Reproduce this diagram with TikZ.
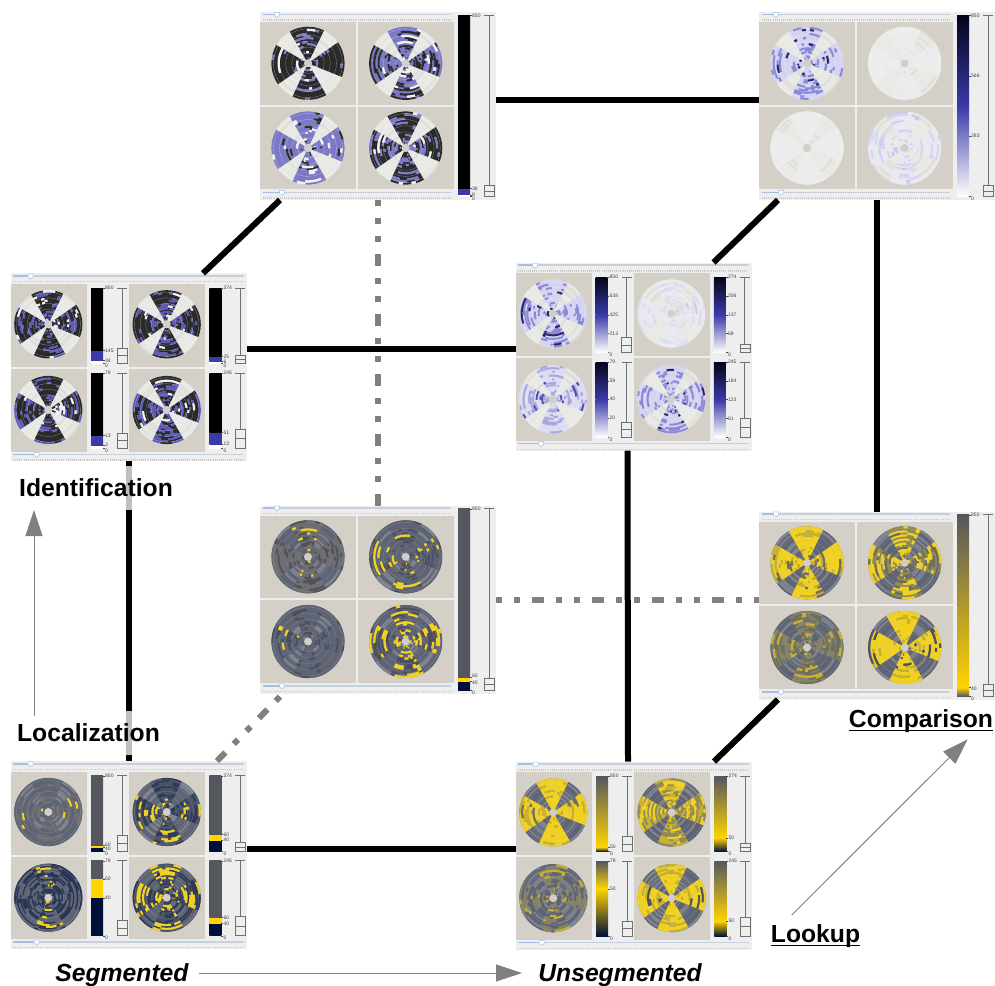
\documentclass[tikz,border=0pt]{standalone}
\usepackage{fontspec}
\setmainfont{Liberation Sans}
\usetikzlibrary{arrows.meta}
\definecolor{panelbg}{HTML}{EEEEEE}
\definecolor{tilecol}{HTML}{D4D0C8}
\definecolor{holecol}{HTML}{D2CFCA}
\definecolor{trackc}{HTML}{C4D0DE}
\definecolor{trackb}{HTML}{A4BEE4}
\definecolor{tickc}{HTML}{C8C8C8}
\definecolor{sldc}{HTML}{707070}
\definecolor{graycon}{HTML}{808080}
\definecolor{bk}{HTML}{2A2A2A}
\definecolor{pl}{HTML}{7C7AC6}
\definecolor{pu}{HTML}{5D5AB8}
\definecolor{wh}{HTML}{F0F0EE}
\definecolor{gl}{HTML}{E8E8E4}
\definecolor{gm}{HTML}{DEDEDA}
\definecolor{ba}{HTML}{D4D4F0}
\definecolor{bb}{HTML}{8A88D8}
\definecolor{bc}{HTML}{25256A}
\definecolor{bd}{HTML}{E8E8EE}
\definecolor{be}{HTML}{DCDCF0}
\definecolor{bf}{HTML}{C8C8E8}
\definecolor{bg}{HTML}{ECECEC}
\definecolor{bh}{HTML}{E6E6EE}
\definecolor{bi}{HTML}{A8A8E0}
\definecolor{bj}{HTML}{5050B8}
\definecolor{gy}{HTML}{5F6474}
\definecolor{gz}{HTML}{7C808C}
\definecolor{gr}{HTML}{6E6E70}
\definecolor{gs}{HTML}{50525A}
\definecolor{gt}{HTML}{4A4E5E}
\definecolor{yl}{HTML}{F2D220}
\definecolor{nv}{HTML}{2A3655}
\definecolor{nw}{HTML}{4A5268}
\definecolor{nx}{HTML}{2E3A58}
\definecolor{oa}{HTML}{C8B030}
\definecolor{ob}{HTML}{8E8A58}
\definecolor{oc}{HTML}{6E6E5E}
\definecolor{od}{HTML}{85826A}
\definecolor{barbk}{HTML}{000000}
\definecolor{barbl}{HTML}{3A3AAA}
\definecolor{bardk}{HTML}{04041A}
\definecolor{bargr}{HTML}{55575F}
\definecolor{baryl}{HTML}{FFD400}
\definecolor{barnv}{HTML}{001038}
\definecolor{barwh}{HTML}{FFFFFF}
\tikzset{
  panelbox/.style={fill=panelbg,inner sep=0pt,outer sep=0pt,minimum width=236pt,minimum height=188pt},
  conblack/.style={line width=6pt,black},
  congray/.style={line width=6pt,graycon,dash pattern=on 12pt off 12pt on 6pt off 12pt on 6pt off 12pt},
  flow/.style={line width=1pt,graycon,-{Triangle[length=26pt,width=17pt]}},
  heading/.style={font=\fontsize{24.7}{26}\selectfont\bfseries,inner sep=0pt},
  headit/.style={font=\fontsize{24.7}{26}\selectfont\bfseries\itshape,inner sep=0pt},
  barlabel/.style={font=\fontsize{5}{5}\selectfont,text=black!75,inner sep=0pt,anchor=west},
}
\newcount\labc
\newcount\pickn
\def\gapA{gl}\def\gapB{gm}\def\gapP{15}\def\ringC{white}
\newcommand\setgap[4]{\def\gapA{#1}\def\gapB{#2}\def\gapP{#3}\def\ringC{#4}}
\newcommand\onearc[3]{\pgfpathmoveto{\pgfpointpolar{#1}{#3 pt}}\pgfpatharc{#1}{#2}{#3 pt}}
\newcommand\addarc[4]{%
  \ifcase#1\or
    \xdef\lsta{\unexpanded\expandafter{\lsta}\noexpand\onearc{#2}{#3}{#4}}\or
    \xdef\lstb{\unexpanded\expandafter{\lstb}\noexpand\onearc{#2}{#3}{#4}}\or
    \xdef\lstc{\unexpanded\expandafter{\lstc}\noexpand\onearc{#2}{#3}{#4}}\or
    \xdef\lstg{\unexpanded\expandafter{\lstg}\noexpand\onearc{#2}{#3}{#4}}\fi}
\newcommand\strokelist[2]{%
  \pgfscope\pgfsetlinewidth{\lw pt}\pgfsetstrokecolor{#1}#2\pgfusepath{stroke}\endpgfscope}
\newcommand\ringdisc[8]{%
  \begin{scope}[shift={(#1,#2)}]
  \fill[\gapA] (0,0) circle[radius=#3 pt];
  \pgfmathsetmacro\dr{(#3-4)/16}
  \pgfmathsetmacro\lw{\dr+.22}
  \gdef\lsta{}\gdef\lstb{}\gdef\lstc{}\gdef\lstg{}
  \foreach \aa/\ab in {120/150,215/245,300/338,35/64}{
    \foreach \ri in {0,...,15}{
      \pgfmathsetmacro\rr{4+(\ri+.5)*\dr}
      \pgfmathrandominteger\rn{0}{99}
      \ifnum\rn<\gapP\relax\addarc{4}{\aa}{\ab}{\rr}\fi
    }
  }
  \foreach \aa/\ab in {64/120,150/215,245/300,338/395}{
    \pgfmathrandominteger\wb{-6}{6}
    \foreach \ri in {0,...,15}{
      \pgfmathsetmacro\rr{4+(\ri+.5)*\dr}
      \xdef\curc{0}\xdef\runst{\aa}
      \foreach \kk in {0,1,2,3,4,5,6,7}{
        \pgfmathsetmacro\ac{\aa+\kk*(\ab-\aa)/8}
        \pgfmathrandominteger\rs{0}{99}
        \ifnum\kk=0 \def\rs{99}\fi
        \edef\newc{\curc}
        \ifnum\rs<58 \else
          \pgfmathrandominteger\rn{0}{99}
          \pickn=\numexpr\rn+\wb\relax
          \ifnum\pickn<#7\relax\def\newc{1}\else
          \ifnum\pickn<#8\relax\def\newc{2}\else
          \def\newc{3}\fi\fi
        \fi
        \ifnum\newc=\curc\relax\else
          \ifnum\curc>0 \addarc{\curc}{\runst}{\ac}{\rr}\fi
          \xdef\runst{\ac}\xdef\curc{\newc}
        \fi
      }
      \addarc{\curc}{\runst}{\ab}{\rr}
    }
  }
  \strokelist{\gapB}{\lstg}
  \strokelist{#4}{\lsta}
  \strokelist{#5}{\lstb}
  \strokelist{#6}{\lstc}
  \foreach \ri in {3,6,...,15}{
    \pgfmathsetmacro\rr{4+\ri*\dr}
    \draw[line width=.35pt,\ringC,opacity=.4] (0,0) circle[radius=\rr pt];
  }
  \fill[holecol] (0,0) circle[radius=4pt];
  \end{scope}}
\newcommand\daa{\ringdisc{48}{51.3}{36.5}}
\newcommand\dab{\ringdisc{145.7}{51.3}{36.5}}
\newcommand\dac{\ringdisc{48}{136}{36.5}}
\newcommand\dad{\ringdisc{145.7}{136}{36.5}}
\newcommand\dba{\ringdisc{37.3}{51}{34}}
\newcommand\dbb{\ringdisc{155.7}{51}{34}}
\newcommand\dbc{\ringdisc{37.3}{136.7}{34}}
\newcommand\dbd{\ringdisc{155.7}{136.7}{34}}
\newcommand\hslider[4]{% x1 x2 y thumb
  \draw[line width=1.6pt,trackc] (#1,#3) -- (#2,#3);
  \draw[line width=1.6pt,trackb] (#1,#3) -- (#4,#3);
  \filldraw[fill=white,draw=trackb,line width=.5pt] (#4-2.5,#3-2) -- (#4+2.5,#3-2) -- (#4+2.5,#3+1) -- (#4,#3+3) -- (#4-2.5,#3+1) -- cycle;
  \draw[line width=1.2pt,tickc,dash pattern=on .7pt off 1.4pt] (#1,#3+5.7) -- (#2,#3+5.7);}
\newcommand\vslider[4]{% x top bottom thumb height
  \draw[line width=.7pt,sldc] (#1,#2) -- (#1,#3);
  \draw[line width=.7pt,sldc] (#1-5,#2) -- (#1+5,#2);
  \draw[line width=.7pt,sldc] (#1-5,#3) -- (#1+5,#3);
  \filldraw[fill=panelbg,draw=sldc,line width=.6pt] (#1-5,#3-#4) rectangle (#1+5,#3);
  \draw[line width=.5pt,sldc] (#1-5,#3-#4*.5) -- (#1+5,#3-#4*.5);}
\newcommand\vbar[4]{% x top bottom pieces
  \foreach \fa/\fb/\ca/\cb in {#4}{
    \pgfmathsetmacro\ya{#3-(#3-#2)*\fa}
    \pgfmathsetmacro\yb{#3-(#3-#2)*\fb}
    \shade[bottom color=\ca,top color=\cb] (#1,\ya) rectangle (#1+12,\yb);
  }}
\newcommand\barlabs[5]{% x top bottom max list
  \foreach \vv in {#5}{
    \pgfmathsetmacro\yl{#3-(#3-#2)*(\vv/#4)}
    \global\advance\labc by 1
    \draw[line width=.4pt,black!70] (#1,\yl) -- (#1+1.8,\yl);
    \ifnum\vv=0 \pgfmathsetmacro\yl{\yl+2.5}\fi
    \ifnum#4=850 \ifnum\vv=60 \pgfmathsetmacro\yl{\yl-1.3}\fi\ifnum\vv=40 \pgfmathsetmacro\yl{\yl+1.3}\fi\fi
    \node[barlabel] (lab\the\labc) at (#1+2,\yl) {\vv};
  }}
\newcommand\panelbase[3]{%
  \node[panelbox] (#1) at (118,94) {};}
% single-scale panel
\newcommand\panelA[7]{% name left top pieces max labels discs
  \begin{scope}[shift={(#2,#3)}]
  \panelbase{#1}{}{}
  \hslider{3}{191}{2.3}{17}
  \hslider{3}{191}{180.3}{22}
  \fill[tilecol] (0,10.3) rectangle (96,92.7);
  \fill[tilecol] (98,10.3) rectangle (194,92.7);
  \fill[tilecol] (0,94.7) rectangle (96,177.3);
  \fill[tilecol] (98,94.7) rectangle (194,177.3);
  #7
  \vbar{198}{3.3}{184.6}{#4}
  \barlabs{210}{3.3}{184.6}{#5}{#5,#6}
  \vslider{229}{3.3}{184.6}{11.7}
  \end{scope}}
% four-scale panel
\newcommand\qbar[7]{% x top bottom thumb max labels pieces
  \vbar{#1}{#2}{#3}{#7}
  \barlabs{#1+12}{#2}{#3}{#5}{#5,#6}
  \vslider{#1+31}{#2}{#3}{#4}}
\newcommand\qba{\qbar{80}{14.7}{90}{15.5}}
\newcommand\qbb{\qbar{198.3}{14.7}{90}{8.3}}
\newcommand\qbc{\qbar{80}{99.7}{174.7}{15}}
\newcommand\qbd{\qbar{198.3}{99.7}{174.7}{19}}
\newcommand\panelB[4]{% name left top content
  \begin{scope}[shift={(#2,#3)}]
  \panelbase{#1}{}{}
  \hslider{2}{233}{2.7}{19.7}
  \hslider{2}{233}{181}{25.7}
  \fill[tilecol] (0,10.7) rectangle (76,93.7);
  \fill[tilecol] (118,10.7) rectangle (194,93.7);
  \fill[tilecol] (0,95.7) rectangle (76,178.4);
  \fill[tilecol] (118,95.7) rectangle (194,178.4);
  #4
  \end{scope}}
\newcommand\ulword[1]{\sbox0{#1}\rlap{\rule[-4pt]{\wd0}{1.7pt}}\box0}
\begin{document}
\begin{tikzpicture}[x=1pt,y=-1pt]
\useasboundingbox (0,0) rectangle (995,985);
\pgfmathsetseed{4711}
%
\setgap{gl}{gm}{15}{white}
\panelA{PA}{260}{12}{0/.013/barwh/barwh,.013/.046/barbl/barbl,.046/1/barbk/barbk}{850}{38,8,0}{%
  \daa{bk}{pl}{wh}{85}{97}
  \dab{pl}{bk}{wh}{58}{90}
  \dac{pl}{bk}{wh}{78}{88}
  \dad{bk}{pl}{wh}{58}{92}}
\panelA{PB}{759}{12}{0/.5/barwh/barbl,.5/1/barbl/bardk}{850}{566,283,0}{%
  \daa{ba}{bb}{bc}{72}{97}
  \dab{bg}{bd}{be}{80}{98}
  \dac{bg}{bg}{bd}{88}{99}
  \dad{bd}{ba}{bf}{72}{96}}
\setgap{gy}{gz}{25}{gz!60!white}
\panelA{PC}{260}{505.5}{0/.047/barnv/barnv,.047/.07/baryl/baryl,.07/1/bargr/bargr}{850}{60,40,0}{%
  \daa{gr}{gs}{yl}{60}{95}
  \dab{gy}{gt}{yl}{60}{86}
  \dac{gy}{gt}{yl}{70}{98}
  \dad{gy}{gt}{yl}{42}{72}}
\panelA{PD}{759}{511.5}{0/.047/bargr/baryl,.047/1/baryl/bargr}{850}{40,0}{%
  \daa{yl}{oa}{oc}{80}{95}
  \dab{ob}{yl}{oc}{50}{85}
  \dac{od}{oc}{oa}{55}{90}
  \dad{yl}{oa}{gs}{84}{96}}
%
\setgap{gl}{gm}{15}{white}
\panelB{QA}{11}{273.3}{%
  \dba{bk}{pu}{wh}{62}{92}
  \dbb{bk}{pu}{wh}{62}{92}
  \dbc{bk}{pu}{wh}{62}{92}
  \dbd{bk}{pu}{wh}{52}{92}
  \qba{850}{145,34,0}{0/.04/barwh/barwh,.04/.17/barbl/barbl,.17/1/barbk/barbk}
  \qbb{274}{25,6,0}{0/.02/barwh/barwh,.02/.09/barbl/barbl,.09/1/barbk/barbk}
  \qbc{79}{13,3,0}{0/.04/barwh/barwh,.04/.165/barbl/barbl,.165/1/barbk/barbk}
  \qbd{245}{51,13,0}{0/.05/barwh/barwh,.05/.21/barbl/barbl,.21/1/barbk/barbk}}
\panelB{QB}{515.5}{262.5}{%
  \dba{ba}{bb}{bc}{68}{95}
  \dbb{bd}{be}{bf}{70}{96}
  \dbc{be}{bi}{bj}{68}{96}
  \dbd{ba}{bb}{bc}{62}{93}
  \qba{850}{638,425,213,0}{0/.5/barwh/barbl,.5/1/barbl/bardk}
  \qbb{274}{206,137,69,0}{0/.5/barwh/barbl,.5/1/barbl/bardk}
  \qbc{79}{59,40,20,0}{0/.5/barwh/barbl,.5/1/barbl/bardk}
  \qbd{245}{184,123,61,0}{0/.5/barwh/barbl,.5/1/barbl/bardk}}
\setgap{gy}{gz}{25}{gz!60!white}
\panelB{QC}{11}{761}{%
  \dba{gr}{gy}{yl}{50}{95}
  \dbb{nw}{nx}{yl}{50}{87}
  \setgap{nv}{gy}{45}{gz!60!white}
  \dbc{nv}{gy}{yl}{55}{96}
  \setgap{gy}{nx}{25}{gz!60!white}
  \dbd{nw}{nx}{yl}{38}{68}
  \qba{850}{60,40,0}{0/.047/barnv/barnv,.047/.07/baryl/baryl,.07/1/bargr/bargr}
  \qbb{274}{60,40,0}{0/.146/barnv/barnv,.146/.22/baryl/baryl,.22/1/bargr/bargr}
  \qbc{79}{60,40,0}{0/.506/barnv/barnv,.506/.76/baryl/baryl,.76/1/bargr/bargr}
  \qbd{245}{60,40,0}{0/.163/barnv/barnv,.163/.245/baryl/baryl,.245/1/bargr/bargr}}
\setgap{gy}{gz}{25}{gz!60!white}
\panelB{QD}{516}{761.5}{%
  \dba{yl}{oa}{oc}{78}{94}
  \dbb{oa}{ob}{yl}{40}{75}
  \dbc{od}{gy}{oa}{50}{85}
  \dbd{yl}{oa}{gs}{75}{93}
  \qba{850}{50,0}{0/.059/barnv/baryl,.059/1/baryl/bargr}
  \qbb{274}{50,0}{0/.182/barnv/baryl,.182/1/baryl/bargr}
  \qbc{79}{50,0}{0/.633/barnv/baryl,.633/1/baryl/bargr}
  \qbd{245}{50,0}{0/.204/barnv/baryl,.204/1/baryl/bargr}}
%
% dashed connectors
\draw[congray,dash phase=6pt] (PA.south) -- (PC.north);
\draw[congray,dash phase=24pt] (PC.east) -- ([yshift=6pt]PD.west);
\draw[congray] ([xshift=-30pt]QC.north east) -- ([xshift=23pt]PC.south west);
% solid connectors
\draw[conblack] ([yshift=6.5pt]PA.east) -- ([yshift=6.5pt]PB.west);
\draw[conblack] ([xshift=20pt]PA.south west) -- ([xshift=-44pt]QA.north east);
\draw[conblack] ([xshift=19pt]PB.south west) -- ([xshift=-38pt]QB.north east);
\draw[conblack] (PB.south) -- (PD.north);
\draw[conblack] ([yshift=18.3pt]QA.east) -- ([yshift=7.5pt]QB.west);
\draw[conblack] (QA.south) -- (QC.north);
\draw[conblack] ([xshift=-6pt]QB.south) -- ([xshift=-6pt]QD.north);
\draw[conblack] ([yshift=6pt]QC.east) -- ([yshift=6.5pt]QD.west);
\draw[conblack] ([xshift=19pt]PD.south west) -- ([xshift=-38pt]QD.north east);
%
% labels
\node[heading,fill=white,fill opacity=.75,text opacity=1,minimum height=44pt] (ident) at (96,487.5) {Identification};
\node[heading,fill=white,fill opacity=.75,text opacity=1,minimum height=44pt] (local) at (88.5,733) {Localization};
\node[headit] (segm) at (122,975) {Segmented};
\node[headit] (unseg) at (620,975) {Unsegmented};
\node[heading] (compar) at (921,721) {\ulword{Comparison}};
\node[heading] (lookup) at (815.5,936) {\ulword{Lookup}};
%
% arrows
\coordinate (localtail) at (34,716);
\coordinate (identtip) at (34,510);
\coordinate (segtail) at (199,973);
\coordinate (unsegtip) at (522,973);
\coordinate (looktail) at (791.7,915);
\coordinate (comptip) at (967.7,739.3);
\draw[flow] (localtail) -- (identtip);
\draw[flow] (segtail) -- (unsegtip);
\draw[flow] (looktail) -- (comptip);
\end{tikzpicture}
\end{document}
